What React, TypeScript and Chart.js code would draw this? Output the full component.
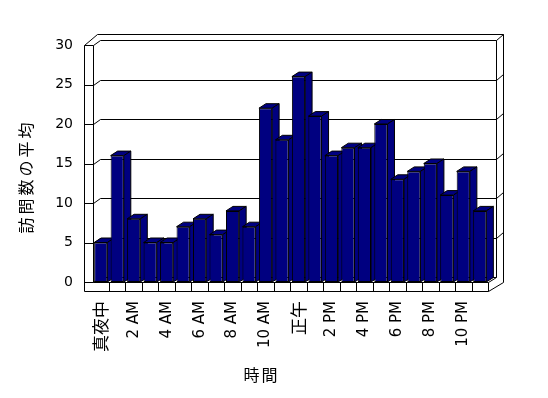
import { useEffect, useRef } from "react";
import { Chart, registerables } from "chart.js";

Chart.register(...registerables);

// ---- data ----
const hourLabels = [
  "真夜中", "1 AM", "2 AM", "3 AM", "4 AM", "5 AM", "6 AM", "7 AM", "8 AM", "9 AM", "10 AM", "11 AM",
  "正午", "1 PM", "2 PM", "3 PM", "4 PM", "5 PM", "6 PM", "7 PM", "8 PM", "9 PM", "10 PM", "11 PM",
];
const averageVisits = [5, 16, 8, 5, 5, 7, 8, 6, 9, 7, 22, 18, 26, 21, 16, 17, 17, 20, 13, 14, 15, 11, 14, 9];
const yTickValues = [0, 5, 10, 15, 20, 25, 30];
const yAxisTitle = "訪問数の平均";
const xAxisTitle = "時間";

// ---- style ----
const NAVY = "#000080";
const CJK = "'Noto Sans CJK JP'";
const LATIN = "'DejaVu Sans', 'Noto Sans CJK JP'";
const DX = 7.5; // back plane offset
const DY = -5;
const BDX = 7; // bar depth
const BDY = -4.5;
const WL = 8.5; // left wall thickness
const WT = 6; // back wall top thickness
const WR = 7; // right thickness
const FB = 9; // floor thickness

const box3d = {
  id: "box3d",
  beforeDatasetsDraw(chart: any) {
    const { ctx, chartArea } = chart;
    const L = chartArea.left;
    const R = chartArea.right;
    const ys = chart.scales.y;
    const xs = chart.scales.x;
    const T = ys.getPixelForValue(yTickValues[yTickValues.length - 1]);
    const B = ys.getPixelForValue(0);
    const p = (v: number) => Math.round(v) + 0.5;
    ctx.save();
    ctx.strokeStyle = "#000";
    ctx.lineWidth = 1;
    const line = (x1: number, y1: number, x2: number, y2: number) => {
      ctx.beginPath();
      ctx.moveTo(p(x1), p(y1));
      ctx.lineTo(p(x2), p(y2));
      ctx.stroke();
    };
    // left wall front face
    line(L - WL, T, L - WL, B + FB);
    line(L, T, L, B);
    // top edges
    line(L - WL, T, L + DX - 3, T + DY - WT);
    line(L + DX - 3, T + DY - WT, R + DX + WR, T + DY - WT);
    line(R + DX + WR, T + DY - WT, R + DX + WR, B);
    line(R + DX, T + DY, R + DX, B + DY);
    // gridlines
    yTickValues.forEach((v) => {
      const y = ys.getPixelForValue(v);
      line(L - WL, y, L, y);
      line(L, y, L + DX, y + DY);
      line(L + DX, y + DY, R + DX, y + DY);
      if (v !== 0) line(R + DX, y + DY, R + DX + WR, y + DY - WT);
    });
    // floor
    line(L, B, R, B);
    line(L - WL, B + FB, R, B + FB);
    line(R, B, R, B + FB);
    line(R, B, R + DX, B + DY);
    line(R, B + FB, R + DX + WR, B);
    for (let i = 1; i < hourLabels.length; i++) {
      const x = (xs.getPixelForValue(i - 1) + xs.getPixelForValue(i)) / 2;
      line(x, B, x, B + FB);
    }
    // bar depth faces
    const meta = chart.getDatasetMeta(0);
    ctx.fillStyle = NAVY;
    ctx.lineJoin = "miter";
    meta.data.forEach((bar: any) => {
      const { x, y, base, width } = bar.getProps(["x", "y", "base", "width"], true);
      const l = x - width / 2;
      const r = x + width / 2;
      ctx.beginPath();
      ctx.moveTo(l, y);
      ctx.lineTo(r, y);
      ctx.lineTo(r + BDX, y + BDY);
      ctx.lineTo(l + BDX, y + BDY);
      ctx.closePath();
      ctx.fill();
      ctx.stroke();
      ctx.beginPath();
      ctx.moveTo(r, y);
      ctx.lineTo(r + BDX, y + BDY);
      ctx.lineTo(r + BDX, base + BDY);
      ctx.lineTo(r, base);
      ctx.closePath();
      ctx.fill();
      ctx.stroke();
    });
    ctx.restore();
  },
  afterDraw(chart: any) {
    const { ctx } = chart;
    ctx.save();
    ctx.fillStyle = "#000";
    ctx.textAlign = "center";
    ctx.textBaseline = "middle";
    ctx.font = `16px ${CJK}`;
    try { (ctx as any).letterSpacing = "3px"; } catch (e) {}
    ctx.translate(26, 178);
    ctx.rotate(-Math.PI / 2);
    ctx.fillText(yAxisTitle, 1.5, 0);
    ctx.restore();
    ctx.save();
    ctx.fillStyle = "#000";
    ctx.textAlign = "center";
    ctx.textBaseline = "middle";
    ctx.font = `16px ${CJK}`;
    try { (ctx as any).letterSpacing = "2px"; } catch (e) {}
    ctx.fillText(xAxisTitle, 261.5, 375);
    ctx.restore();
  },
};

export default function App() {
  const ref = useRef<HTMLCanvasElement | null>(null);
  useEffect(() => {
    if (!ref.current) return;
    const chart = new Chart(ref.current, {
      type: "bar",
      data: {
        labels: hourLabels,
        datasets: [
          {
            data: averageVisits,
            backgroundColor: NAVY,
            borderColor: "#000",
            borderWidth: 1,
            borderSkipped: false,
            categoryPercentage: 1,
            barPercentage: 0.8,
          },
        ],
      },
      options: {
        responsive: false,
        animation: false,
        events: [],
        layout: { padding: { top: 45, right: 60, left: 0, bottom: 0 } },
        plugins: { legend: { display: false }, tooltip: { enabled: false } },
        scales: {
          x: {
            type: "category",
            offset: true,
            grid: { display: false, drawTicks: false },
            border: { display: false },
            ticks: {
              autoSkip: false,
              minRotation: 90,
              maxRotation: 90,
              padding: 19,
              color: "#000",
              font: (c: any) =>
                c.index === 0 || c.index === 12
                  ? { family: CJK, size: 17 }
                  : { family: LATIN, size: 15 },
              callback: (_v: any, i: number) => (i % 2 === 0 ? hourLabels[i] : ""),
            },
            afterFit: (s: any) => {
              s.height = 116;
            },
          },
          y: {
            min: 0,
            max: 30,
            grid: { display: false, drawTicks: false },
            border: { display: false },
            ticks: { padding: 19.5, color: "#000", font: { family: LATIN, size: 14 } },
            afterBuildTicks: (s: any) => {
              s.ticks = yTickValues.map((v) => ({ value: v }));
            },
            afterFit: (s: any) => {
              s.width = 92.5;
            },
          },
        },
      },
      plugins: [box3d],
    });
    return () => chart.destroy();
  }, []);
  return (
    <div style={{ position: "absolute", left: 0, top: 0, width: 548, height: 398, background: "#fff" }}>
      <canvas ref={ref} width={548} height={398} />
    </div>
  );
}
